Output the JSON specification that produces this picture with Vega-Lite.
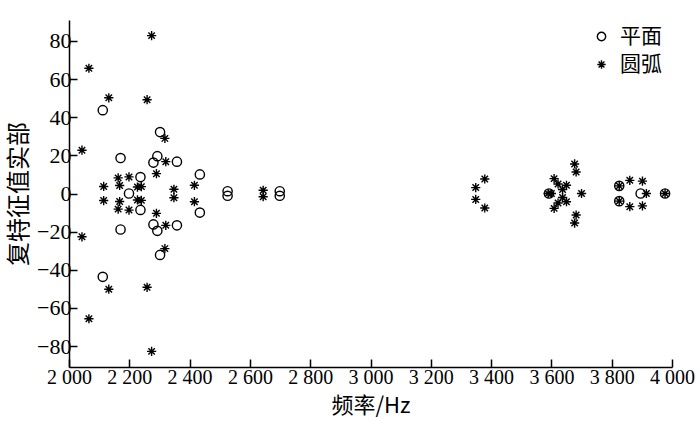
{
  "$schema": "https://vega.github.io/schema/vega-lite/v6.json",
  "width": 603,
  "height": 347,
  "autosize": {"type": "none"},
  "padding": {"left": 69, "top": 20, "right": 28, "bottom": 61},
  "background": "white",
  "config": {
    "view": {"stroke": null},
    "axis": {"grid": false, "domainColor": "black", "domainWidth": 1.5, "tickColor": "black", "tickWidth": 1.5,
      "labelFont": "Liberation Serif", "labelColor": "black", "titleColor": "black", "titleFontWeight": "normal"},
    "legend": {"labelFont": "Noto Sans CJK SC", "labelColor": "black"}
  },
  "data": {"values": [
    {"f": 2112, "v": 43.7, "type": "平面"}, {"f": 2112, "v": -43.7, "type": "平面"},
    {"f": 2171, "v": 18.6, "type": "平面"}, {"f": 2171, "v": -18.9, "type": "平面"},
    {"f": 2199, "v": 0, "type": "平面"},
    {"f": 2237, "v": 8.6, "type": "平面"}, {"f": 2237, "v": -8.6, "type": "平面"},
    {"f": 2280, "v": 16.2, "type": "平面"}, {"f": 2280, "v": -16.2, "type": "平面"},
    {"f": 2293, "v": 19.6, "type": "平面"}, {"f": 2293, "v": -19.6, "type": "平面"},
    {"f": 2302, "v": 32.2, "type": "平面"}, {"f": 2302, "v": -32.2, "type": "平面"},
    {"f": 2358, "v": 16.7, "type": "平面"}, {"f": 2358, "v": -16.7, "type": "平面"},
    {"f": 2434, "v": 10, "type": "平面"}, {"f": 2434, "v": -10, "type": "平面"},
    {"f": 2526, "v": 1.2, "type": "平面"}, {"f": 2526, "v": -1.2, "type": "平面"},
    {"f": 2699, "v": 1.2, "type": "平面"}, {"f": 2699, "v": -1.2, "type": "平面"},
    {"f": 3592, "v": 0, "type": "平面"},
    {"f": 3825, "v": 4, "type": "平面"}, {"f": 3825, "v": -4, "type": "平面"},
    {"f": 3896, "v": 0, "type": "平面"},
    {"f": 3977, "v": 0, "type": "平面"},
    {"f": 2043, "v": 22.7, "type": "圆弧"}, {"f": 2043, "v": -22.7, "type": "圆弧"},
    {"f": 2066, "v": 65.7, "type": "圆弧"}, {"f": 2066, "v": -65.7, "type": "圆弧"},
    {"f": 2115, "v": 3.7, "type": "圆弧"}, {"f": 2115, "v": -3.7, "type": "圆弧"},
    {"f": 2132, "v": 50.2, "type": "圆弧"}, {"f": 2132, "v": -50.2, "type": "圆弧"},
    {"f": 2168, "v": 4.2, "type": "圆弧"}, {"f": 2168, "v": -4.2, "type": "圆弧"},
    {"f": 2163, "v": 8.2, "type": "圆弧"}, {"f": 2163, "v": -8.2, "type": "圆弧"},
    {"f": 2199, "v": 8.7, "type": "圆弧"}, {"f": 2199, "v": -8.7, "type": "圆弧"},
    {"f": 2227, "v": 3.4, "type": "圆弧"}, {"f": 2227, "v": -3.4, "type": "圆弧"},
    {"f": 2240, "v": 3.6, "type": "圆弧"}, {"f": 2240, "v": -3.6, "type": "圆弧"},
    {"f": 2259, "v": 49.2, "type": "圆弧"}, {"f": 2259, "v": -49.2, "type": "圆弧"},
    {"f": 2274, "v": 82.8, "type": "圆弧"}, {"f": 2274, "v": -82.8, "type": "圆弧"},
    {"f": 2290, "v": 10.4, "type": "圆弧"}, {"f": 2290, "v": -10.4, "type": "圆弧"},
    {"f": 2318, "v": 28.9, "type": "圆弧"}, {"f": 2318, "v": -28.9, "type": "圆弧"},
    {"f": 2321, "v": 16.7, "type": "圆弧"}, {"f": 2321, "v": -16.7, "type": "圆弧"},
    {"f": 2348, "v": 2.2, "type": "圆弧"}, {"f": 2348, "v": -2.2, "type": "圆弧"},
    {"f": 2416, "v": 4.3, "type": "圆弧"}, {"f": 2416, "v": -4.3, "type": "圆弧"},
    {"f": 2644, "v": 1.7, "type": "圆弧"}, {"f": 2644, "v": -1.7, "type": "圆弧"},
    {"f": 3349, "v": 3.1, "type": "圆弧"}, {"f": 3349, "v": -3.1, "type": "圆弧"},
    {"f": 3379, "v": 7.6, "type": "圆弧"}, {"f": 3379, "v": -7.6, "type": "圆弧"},
    {"f": 3589, "v": 0, "type": "圆弧"}, {"f": 3600, "v": 0, "type": "圆弧"},
    {"f": 3609, "v": 7.8, "type": "圆弧"}, {"f": 3609, "v": -7.8, "type": "圆弧"},
    {"f": 3622, "v": 5, "type": "圆弧"}, {"f": 3622, "v": -5, "type": "圆弧"},
    {"f": 3637, "v": 2.1, "type": "圆弧"}, {"f": 3637, "v": -2.1, "type": "圆弧"},
    {"f": 3650, "v": 4.3, "type": "圆弧"}, {"f": 3650, "v": -4.3, "type": "圆弧"},
    {"f": 3677, "v": 15.5, "type": "圆弧"}, {"f": 3677, "v": -15.5, "type": "圆弧"},
    {"f": 3682, "v": 11.3, "type": "圆弧"}, {"f": 3682, "v": -11.3, "type": "圆弧"},
    {"f": 3700, "v": 0, "type": "圆弧"},
    {"f": 3825, "v": 4, "type": "圆弧"}, {"f": 3825, "v": -4, "type": "圆弧"},
    {"f": 3860, "v": 6.9, "type": "圆弧"}, {"f": 3860, "v": -6.9, "type": "圆弧"},
    {"f": 3902, "v": 6.5, "type": "圆弧"}, {"f": 3902, "v": -6.5, "type": "圆弧"},
    {"f": 3915, "v": 0, "type": "圆弧"},
    {"f": 3977, "v": 0, "type": "圆弧"}
  ]},
  "mark": {"type": "point", "filled": false, "strokeWidth": 1.4, "opacity": 1, "size": 85},
  "encoding": {
    "x": {"field": "f", "type": "quantitative",
      "scale": {"domain": [2000, 4000], "nice": false, "zero": false},
      "axis": {"title": "频率/Hz", "titleFont": "Noto Sans CJK SC", "titleFontSize": 22, "titlePadding": 8,
        "values": [2000, 2200, 2400, 2600, 2800, 3000, 3200, 3400, 3600, 3800, 4000],
        "labelExpr": "replace(format(datum.value, ','), ',', ' ')",
        "labelFontSize": 20, "labelOverlap": false, "labelFlush": false, "tickSize": -8, "labelPadding": 8}},
    "y": {"field": "v", "type": "quantitative",
      "scale": {"domain": [-91, 91], "nice": false, "zero": false},
      "axis": {"title": "复特征值实部", "titleFont": "Noto Sans CJK SC", "titleFontSize": 24, "titlePadding": 5,
        "values": [-80, -60, -40, -20, 0, 20, 40, 60, 80],
        "labelFontSize": 22, "tickSize": -8, "labelPadding": 6}},
    "shape": {"field": "type", "type": "nominal",
      "scale": {"domain": ["平面", "圆弧"], "range": ["circle", "M0,-1L0,1M-1,0L1,0M-0.7,-0.7L0.7,0.7M-0.7,0.7L0.7,-0.7"]},
      "legend": {"title": null, "orient": "none", "legendX": 522, "legendY": 6, "labelFontSize": 21, "symbolStrokeWidth": 1.4, "symbolSize": 70, "symbolStrokeColor": "black", "symbolFillColor": "transparent", "rowPadding": 6, "labelOffset": 8}},
    "color": {"value": "black"}
  }
}
